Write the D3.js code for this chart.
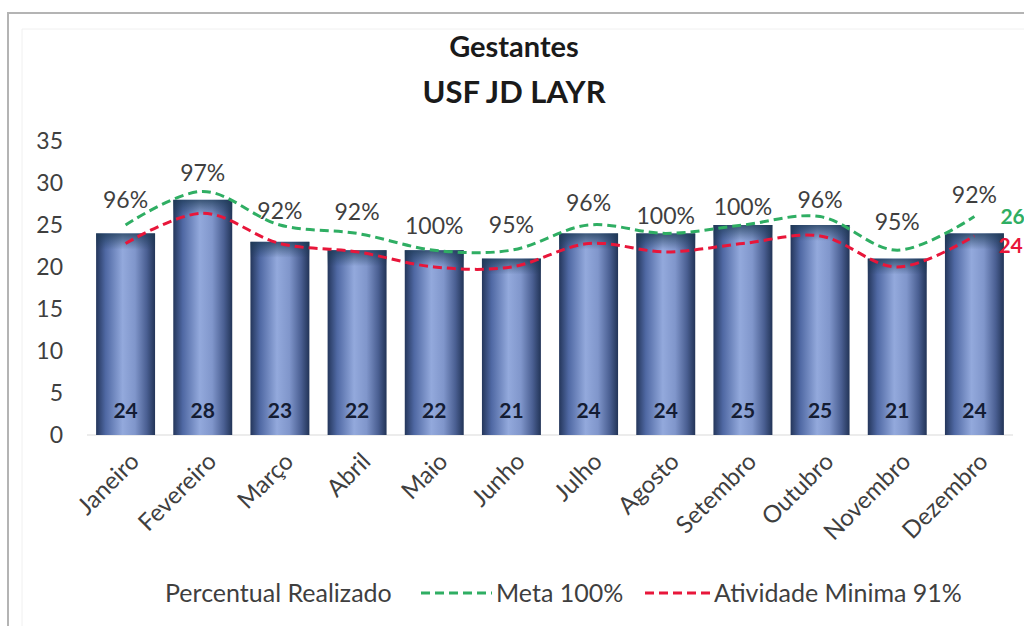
<!DOCTYPE html>
<html><head><meta charset="utf-8">
<script src="https://cdn.jsdelivr.net/npm/d3@7"></script>
<style>html,body{margin:0;padding:0;background:#fff;overflow:hidden}svg{display:block;font-family:Lato,"Open Sans",sans-serif}</style>
</head><body>
<svg id="c" width="1024" height="626"></svg>
<script>
const months = ["Janeiro","Fevereiro","Março","Abril","Maio","Junho","Julho","Agosto","Setembro","Outubro","Novembro","Dezembro"];
const realizado = [24,28,23,22,22,21,24,24,25,25,21,24];
const meta = [25,29,25,24,22,22,25,24,25,26,22,26];
const minima = [22.8,26.4,22.8,21.8,20.0,20.0,22.8,21.8,22.8,23.7,20.0,23.7];
const percentual = ["96%","97%","92%","92%","100%","95%","96%","100%","100%","96%","95%","92%"];
// hidden "Percentual Realizado" series level (where its labels sit)
const percentualLevel = [28.0,31.2,26.7,26.5,24.9,25.0,27.6,26.1,27.1,28.0,25.4,28.6];
const yTicks = [0,5,10,15,20,25,30,35];
const titleLines = ["Gestantes","USF JD LAYR"];
const legendItems = ["Percentual Realizado","Meta 100%","Atividade Minima 91%"];

const svg = d3.select("#c");
const green = "#2fae63", red = "#e8163a", txt = "#3f3f3f";

// outer frame
svg.append("path").attr("d","M8,626 V13 H1024").attr("fill","none").attr("stroke","#b4b4b4").attr("stroke-width",2);
svg.append("path").attr("d","M22,626 V29 H1024").attr("fill","none").attr("stroke","#f0f0f0").attr("stroke-width",1);

const x = d3.scaleBand().domain(months).range([87,1013]).paddingInner(0.236).paddingOuter(0.118);
const y = d3.scaleLinear().domain([0,35]).range([435,141]);

const defs = svg.append("defs");
const g1 = defs.append("linearGradient").attr("id","barH").attr("x1","0").attr("x2","1").attr("y1","0").attr("y2","0");
[[0,"#24365b"],[0.16,"#4f68a3"],[0.45,"#93a9dc"],[0.66,"#8096cb"],[0.86,"#4a5f92"],[1,"#223457"]]
  .forEach(([o,c])=>g1.append("stop").attr("offset",o).attr("stop-color",c));
const g2 = defs.append("linearGradient").attr("id","barTop").attr("x1","0").attr("x2","0").attr("y1","0").attr("y2","1");
g2.append("stop").attr("offset",0).attr("stop-color","#1d3a55").attr("stop-opacity",0.75);
g2.append("stop").attr("offset",1).attr("stop-color","#1d3a55").attr("stop-opacity",0);

// title
svg.append("g").selectAll("text").data(titleLines).join("text")
  .attr("x",514).attr("y",(d,i)=>57+i*46).attr("text-anchor","middle")
  .attr("font-size",(d,i)=>i?31:29).attr("font-weight","bold").attr("fill","#1a1a1a").text(d=>d);

// y axis
const yAxis = svg.append("g").attr("transform","translate(71,0)")
  .call(d3.axisLeft(y).tickValues(yTicks).tickSize(0).tickPadding(8));
yAxis.select(".domain").remove();
yAxis.selectAll("text").attr("font-size",23).attr("fill",txt).attr("font-family","Lato");

// baseline
svg.append("line").attr("x1",87).attr("x2",1013).attr("y1",y(0)).attr("y2",y(0)).attr("stroke","#d9d9d9").attr("stroke-width",1);

// bars
const bars = svg.append("g");
bars.selectAll("rect.b").data(realizado).join("rect").attr("class","b")
  .attr("x",(d,i)=>x(months[i])).attr("width",x.bandwidth())
  .attr("y",d=>y(d)).attr("height",d=>y(0)-y(d)).attr("fill","url(#barH)");
bars.selectAll("rect.t").data(realizado).join("rect").attr("class","t")
  .attr("x",(d,i)=>x(months[i])).attr("width",x.bandwidth())
  .attr("y",d=>y(d)).attr("height",16).attr("fill","url(#barTop)");
bars.selectAll("text").data(realizado).join("text")
  .attr("x",(d,i)=>x(months[i])+x.bandwidth()/2).attr("y",y(0)-17)
  .attr("text-anchor","middle").attr("font-size",21).attr("font-weight","bold").attr("fill","#141c33").text(d=>d);

// x axis labels
const cx = i => x(months[i])+x.bandwidth()/2;
svg.append("g").selectAll("text").data(months).join("text")
  .attr("transform",(d,i)=>`translate(${cx(i)+15},${y(0)+28}) rotate(-45)`)
  .attr("text-anchor","end").attr("font-size",24).attr("fill",txt).text(d=>d);

// lines
const line = d3.line().x((d,i)=>cx(i)).y(d=>y(d)).curve(d3.curveCatmullRom.alpha(0.5));
svg.append("path").datum(meta).attr("d",line).attr("fill","none").attr("stroke",green).attr("stroke-width",3).attr("stroke-dasharray","9,5");
svg.append("path").datum(minima).attr("d",line).attr("fill","none").attr("stroke",red).attr("stroke-width",3).attr("stroke-dasharray","9,5");

// percent labels
svg.append("g").selectAll("text").data(percentual).join("text")
  .attr("x",(d,i)=>cx(i)).attr("y",(d,i)=>y(percentualLevel[i])).attr("dy","0.35em")
  .attr("text-anchor","middle").attr("font-size",23).attr("fill",txt).text(d=>d);

// end labels
const last = months.length-1;
svg.append("text").attr("x",cx(last)+26).attr("y",y(meta[last])).attr("dy","0.35em")
  .attr("font-size",21).attr("font-weight","bold").attr("fill",green).text(meta[last]);
svg.append("text").attr("x",cx(last)+24).attr("y",y(minima[last])+10).attr("dy","0.35em")
  .attr("font-size",21).attr("font-weight","bold").attr("fill",red).text(Math.round(minima[last]));

// legend
const lg = svg.append("g").attr("font-size",25).attr("fill",txt);
lg.append("text").attr("x",165).attr("y",593).attr("dy","0.35em").text(legendItems[0]);
lg.append("line").attr("x1",421).attr("x2",492).attr("y1",593).attr("y2",593).attr("stroke",green).attr("stroke-width",3).attr("stroke-dasharray","9,5");
lg.append("text").attr("x",496).attr("y",593).attr("dy","0.35em").text(legendItems[1]);
lg.append("line").attr("x1",645).attr("x2",712).attr("y1",593).attr("y2",593).attr("stroke",red).attr("stroke-width",3).attr("stroke-dasharray","9,5");
lg.append("text").attr("x",714).attr("y",593).attr("dy","0.35em").text(legendItems[2]);
</script>
</body></html>
